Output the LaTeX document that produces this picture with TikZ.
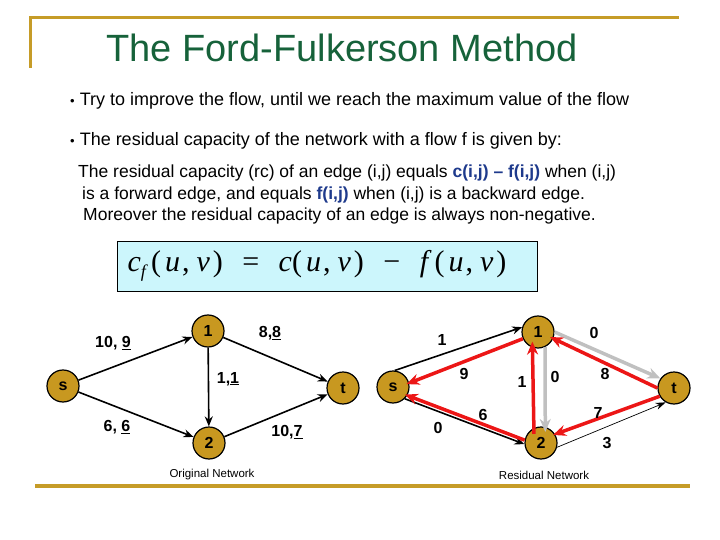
\documentclass[tikz,border=0pt]{standalone}
\usepackage{fontspec}
\setmainfont{Liberation Sans}
\newfontfamily\formfont{Liberation Serif}
\usetikzlibrary{arrows.meta,positioning,calc}
\definecolor{gold}{RGB}{198,156,40}
\definecolor{nodegold}{RGB}{200,152,32}
\definecolor{titlegreen}{RGB}{22,98,58}
\definecolor{formblue}{RGB}{30,58,140}
\definecolor{boxcyan}{RGB}{204,246,252}
\definecolor{resred}{RGB}{236,22,22}
\definecolor{resgray}{RGB}{192,192,192}
\newcommand{\uvpair}{(\hspace{4pt}\textit{u}\hspace{2pt},\hspace{7pt}\textit{v}\hspace{3pt})}
\newcommand{\bdot}{{\fontsize{13}{13}\selectfont •}\hspace{5pt}}

\begin{document}
\begin{tikzpicture}[x=1pt, y=-1pt,
        vert/.style={circle, draw, line width=1.2pt, fill=nodegold, minimum size=32pt, inner sep=0pt, font=\fontsize{16}{16}\selectfont\bfseries},
        lab/.style={font=\fontsize{16}{16}\selectfont\bfseries, inner sep=1pt},
        caption/.style={font=\fontsize{11.5}{11.5}\selectfont, inner sep=1pt},
        bul/.style={anchor=base west, inner sep=0pt, font=\fontsize{18}{18}\selectfont},
        para/.style={anchor=base west, inner sep=0pt, font=\fontsize{17.5}{17.5}\selectfont},
        arr/.style={-{Stealth[length=10pt,width=8pt]}, line width=1.6pt},
        thinarr/.style={-{Stealth[length=10pt,width=7pt]}, line width=0.7pt},
        redarr/.style={-{Stealth[length=13pt,width=11pt]}, line width=3.5pt, draw=resred},
        grayarr/.style={-{Stealth[length=13pt,width=11pt]}, line width=3.5pt, draw=resgray},
        rule/.style={draw=gold, line width=3pt}
    ]
    \useasboundingbox (0,0) rectangle (720,540);

    % slide frame
    \draw[rule] (30,68) -- (30,18) -- (679,18);
    \draw[rule, line width=4pt] (35,486) -- (690,486);

    % text part
    \node[anchor=base, text=titlegreen, font=\fontsize{38}{38}\selectfont] (title) at (342,62) {The Ford-Fulkerson Method};
    \node[bul] (b1) at (70,106) {\bdot Try to improve the flow, until we reach the maximum value of the flow};
    \node[bul] (b2) at (70,146) {\bdot The residual capacity of the network with a flow f is given by:};
    \node[para] (par1) at (78,178) {The residual capacity (rc) of an edge (i,j) equals \textcolor{formblue}{\bfseries c(i,j) – f(i,j)} when (i,j)};
    \node[para] (par2) at (82,199.5) {is a forward edge, and equals \textcolor{formblue}{\bfseries f(i,j)} when (i,j) is a backward edge.};
    \node[para] (par3) at (83,221) {Moreover the residual capacity of an edge is always non-negative.};

    \node[draw, line width=1pt, fill=boxcyan, minimum width=420pt, minimum height=50pt] (formula) at (327,266) {};
    \node[font=\formfont\fontsize{30}{30}\selectfont] (cf) at (317,266) {\textit{c}\raisebox{-6pt}{\fontsize{18}{18}\selectfont\textit{f}}\hspace{3pt}\uvpair\hspace{12pt} = \hspace{12pt}\textit{c}\uvpair\hspace{12pt} − \hspace{12pt}\textit{f}\hspace{3pt}\uvpair};

    % original network
    \node[vert] (s) at (63,386) {s};
    \node[vert] (n1) at (208,331) {1};
    \node[vert] (n2) at (209,443) {2};
    \node[vert] (t) at (343,388) {t};

    \draw[arr] (s) -- (n1);
    \draw[arr] (s) -- (n2);
    \draw[arr] (n1) -- (n2);
    \draw[arr] (n1) -- (t);
    \draw[arr] (n2) -- (t);

    \node[lab] (ls1) at (113,343) {10, \underline{9}};
    \node[lab] (l1t) at (270,333) {8,\underline{8}};
    \node[lab] (l12) at (228,379) {1,\underline{1}};
    \node[lab] (ls2) at (117,427) {6, \underline{6}};
    \node[lab] (l2t) at (287,432) {10,\underline{7}};
    \node[caption] (orig) at (212,475) {Original Network};

    % residual network
    \node[vert] (rs) at (393,387) {s};
    \node[vert] (r1) at (538,332) {1};
    \node[vert] (r2) at (541,443) {2};
    \node[vert] (rt) at (674,388) {t};

    \draw[arr] (rs.84) -- (r1.163);
    \draw[arr] (rs.-45) -- (r2.184);
    \draw[thinarr] (r2.-15) -- (rt.-120);
    \draw[grayarr] (r1.-65) -- ([yshift=-5pt]r2.75);
    \draw[grayarr] (r1.0) -- (rt.145);
    \draw[redarr] (r1.204) -- ([xshift=-3pt]rs.10);
    \draw[redarr] (r2.170) -- ([xshift=-3pt]rs.-27);
    \draw[redarr] ([yshift=-6pt]r2.115) -- ([yshift=6pt]r1.-110);
    \draw[redarr] (rt.180) -- ([xshift=-3pt,yshift=2pt]r1.-25);
    \draw[redarr] (rt.210) -- ([xshift=-3pt,yshift=1pt]r2.25);

    \node[lab] (q1) at (442,340) {1};
    \node[lab] (q2) at (464,374) {9};
    \node[lab] (q3) at (522,382) {1};
    \node[lab] (q4) at (555,377) {0};
    \node[lab] (q5) at (594,333) {0};
    \node[lab] (q6) at (605,374) {8};
    \node[lab] (q7) at (598,413) {7};
    \node[lab] (q8) at (483,415) {6};
    \node[lab] (q9) at (438,428) {0};
    \node[lab] (q10) at (607,443) {3};
    \node[caption] (resid) at (544,475) {Residual Network};
\end{tikzpicture}
\end{document}
